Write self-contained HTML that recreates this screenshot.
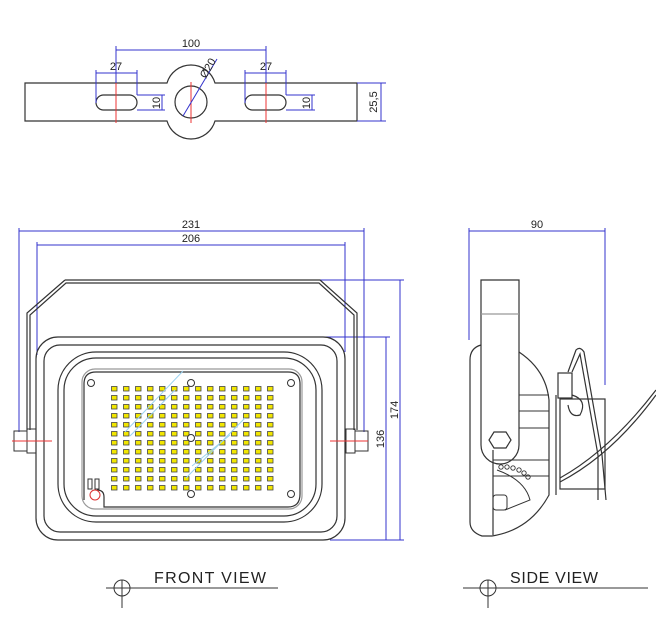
<!DOCTYPE html>
<html><head><meta charset="utf-8"><style>
html,body{margin:0;padding:0;background:#fff;}
svg{display:block;font-family:"Liberation Sans",sans-serif;}
</style></head><body>
<svg width="656" height="625" viewBox="0 0 656 625" xmlns="http://www.w3.org/2000/svg">
<defs>
<pattern id="led" x="111" y="386" width="12" height="9" patternUnits="userSpaceOnUse">
<rect x="0.5" y="0.5" width="5.5" height="4.5" fill="#f2e600" stroke="#444" stroke-width="0.8"/>
</pattern>
</defs>
<g fill="none" stroke="#333" stroke-width="1.2">
<path d="M25 83 H167 A25 25 0 0 1 215 83 H357 V121 H215 A25 25 0 0 1 167 121 H25 Z"/>
<circle cx="191" cy="102" r="16"/>
<rect x="96" y="95" width="41" height="15" rx="7.5"/>
<rect x="245" y="95" width="41" height="15" rx="7.5"/>
</g>
<g stroke="#e33" stroke-width="1">
<line x1="116" y1="81" x2="116" y2="123"/><line x1="191" y1="82" x2="191" y2="123"/><line x1="266" y1="81" x2="266" y2="123"/>
</g>
<g stroke="#33c" stroke-width="1" fill="none">
<line x1="116" y1="50" x2="266" y2="50"/><line x1="116" y1="46" x2="116" y2="83"/><line x1="266" y1="46" x2="266" y2="83"/>
<line x1="96" y1="73" x2="137" y2="73"/><line x1="96" y1="70" x2="96" y2="103"/><line x1="137" y1="70" x2="137" y2="95"/>
<line x1="245" y1="73" x2="286" y2="73"/><line x1="245" y1="70" x2="245" y2="103"/><line x1="286" y1="70" x2="286" y2="95"/>
<line x1="137" y1="95" x2="165" y2="95"/><line x1="137" y1="110" x2="165" y2="110"/><line x1="162" y1="95" x2="162" y2="110"/>
<line x1="286" y1="95" x2="315" y2="95"/><line x1="286" y1="110" x2="315" y2="110"/><line x1="312" y1="95" x2="312" y2="110"/>
<line x1="357" y1="83" x2="386" y2="83"/><line x1="357" y1="121" x2="386" y2="121"/><line x1="381" y1="83" x2="381" y2="121"/>
<line x1="183" y1="116" x2="217" y2="59"/>
<line x1="19" y1="231" x2="364" y2="231"/><line x1="19" y1="228" x2="19" y2="432"/><line x1="364" y1="228" x2="364" y2="432"/>
<line x1="37" y1="245" x2="345" y2="245"/><line x1="37" y1="242" x2="37" y2="355"/><line x1="345" y1="242" x2="345" y2="352"/>
<line x1="320" y1="280" x2="404" y2="280"/><line x1="330" y1="540" x2="404" y2="540"/><line x1="400" y1="280" x2="400" y2="540"/>
<line x1="325" y1="337" x2="390" y2="337"/><line x1="386" y1="337" x2="386" y2="540"/>
<line x1="469" y1="231" x2="605" y2="231"/><line x1="469" y1="228" x2="469" y2="340"/><line x1="605" y1="228" x2="605" y2="385"/>
</g>
<g fill="#222" font-size="11">
<text x="191" y="47" text-anchor="middle">100</text>
<text x="116" y="70" text-anchor="middle">27</text>
<text x="266" y="70" text-anchor="middle">27</text>
<text transform="translate(160 103) rotate(-90)" text-anchor="middle">10</text>
<text transform="translate(310 103) rotate(-90)" text-anchor="middle">10</text>
<text transform="translate(377 102) rotate(-90)" text-anchor="middle">25,5</text>
<text transform="translate(211 70) rotate(-60)" text-anchor="middle">Ø20</text>
<text x="191" y="228" text-anchor="middle">231</text>
<text x="191" y="242" text-anchor="middle">206</text>
<text transform="translate(398 410) rotate(-90)" text-anchor="middle">174</text>
<text transform="translate(384 439) rotate(-90)" text-anchor="middle">136</text>
<text x="537" y="228" text-anchor="middle">90</text>
</g>
<g fill="none" stroke="#333" stroke-width="1.2">
<path d="M65 280 H320 L357 313 V430 M354 430 V315 L319 283 H66 L30 315 V430 M27 430 V313 L65 280"/>
<rect x="36" y="337" width="309" height="203" rx="22"/>
<rect x="44" y="345" width="293" height="187" rx="16"/>
<rect x="58" y="352" width="264" height="170" rx="38"/>
<rect x="64" y="358" width="252" height="158" rx="32"/>
<rect x="82" y="369" width="220" height="140" rx="13" stroke="#999"/>
<path d="M84 500 V384 Q84 372 96 372 H288 Q300 372 300 384 V494 Q300 507 288 507 H104 V497 Q104 490 97 490"/>
<rect x="14" y="431" width="13" height="20" stroke-width="1"/>
<rect x="27" y="429" width="9" height="24" stroke-width="1"/>
<rect x="355" y="431" width="13" height="20" stroke-width="1"/>
<rect x="346" y="429" width="9" height="24" stroke-width="1"/>
</g>
<rect x="111" y="386" width="168" height="108" fill="url(#led)"/>
<g stroke="#9cd3f0" stroke-width="1">
<line x1="125" y1="432" x2="183" y2="371"/><line x1="130" y1="436" x2="175" y2="390"/>
<line x1="186" y1="478" x2="245" y2="418"/><line x1="192" y1="466" x2="230" y2="435"/>
</g>
<g fill="#fff" stroke="#333" stroke-width="1">
<circle cx="91" cy="383" r="3.5"/><circle cx="191" cy="383" r="3.5"/><circle cx="291" cy="383" r="3.5"/>
<circle cx="191" cy="438" r="3.5"/><circle cx="191" cy="494" r="3.5"/><circle cx="291" cy="494" r="3.5"/>
<rect x="88" y="479" width="4" height="10"/><rect x="95" y="479" width="4" height="10"/>
<circle cx="95" cy="495" r="5" stroke="#d33"/>
</g>
<g stroke="#e33" stroke-width="1">
<line x1="12" y1="441" x2="52" y2="441"/><line x1="330" y1="441" x2="368" y2="441"/>
</g>
<g fill="none" stroke="#333" stroke-width="1.2">
<path d="M481 280 H519 V445 A19 19 0 0 1 481 445 Z"/>
<line x1="481" y1="314" x2="519" y2="314" stroke="#999"/>
<path d="M481 345 Q470 348 470 360 V522 Q470 532 482 536 H492 Q530 530 549 495 V400 Q546 370 519 352"/>
<line x1="493" y1="450" x2="493" y2="535"/>
<path d="M519 395 H549 M519 411 H549 M519 428 H549 M493 460 H549 M493 476 H549" stroke-width="1"/>
<polygon points="494,432 506,432 511,440 506,448 494,448 489,440"/>
<rect x="560" y="399" width="45" height="90"/>
<rect x="558" y="373" width="14" height="25"/>
<line x1="556" y1="395" x2="556" y2="495"/>
<path d="M572 395 Q588 400 580 415 Q570 418 568 405"/>
<path d="M568 372 L576 350 Q580 346 584 352 L602 455 L606 500 M572 372 L580 354 L598 455 L598 500"/>
<path d="M560 478 Q610 450 656 390 M560 482 Q612 455 656 395"/>
<path d="M497 470 Q525 480 530 500 L505 510" stroke-width="1"/>
<rect x="493" y="495" width="14" height="15" rx="3" stroke-width="1"/>
</g>
<g fill="none" stroke="#333" stroke-width="0.9">
<circle cx="501" cy="467" r="2.2"/><circle cx="507" cy="467" r="2.2"/><circle cx="513" cy="468" r="2.2"/><circle cx="519" cy="470" r="2.2"/><circle cx="524" cy="473" r="2.2"/><circle cx="528" cy="477" r="2.2"/>
</g>
<g stroke="#333" stroke-width="1" fill="none">
<line x1="106" y1="588" x2="278" y2="588"/><circle cx="122" cy="588" r="8"/><line x1="122" y1="580" x2="122" y2="608"/>
<line x1="463" y1="588" x2="648" y2="588"/><circle cx="488" cy="588" r="8"/><line x1="488" y1="580" x2="488" y2="608"/>
</g>
<g fill="#222" font-size="16">
<text x="154" y="583" textLength="112" lengthAdjust="spacing">FRONT  VIEW</text>
<text x="510" y="583" textLength="88" lengthAdjust="spacing">SIDE VIEW</text>
</g>
</svg>
</body></html>
